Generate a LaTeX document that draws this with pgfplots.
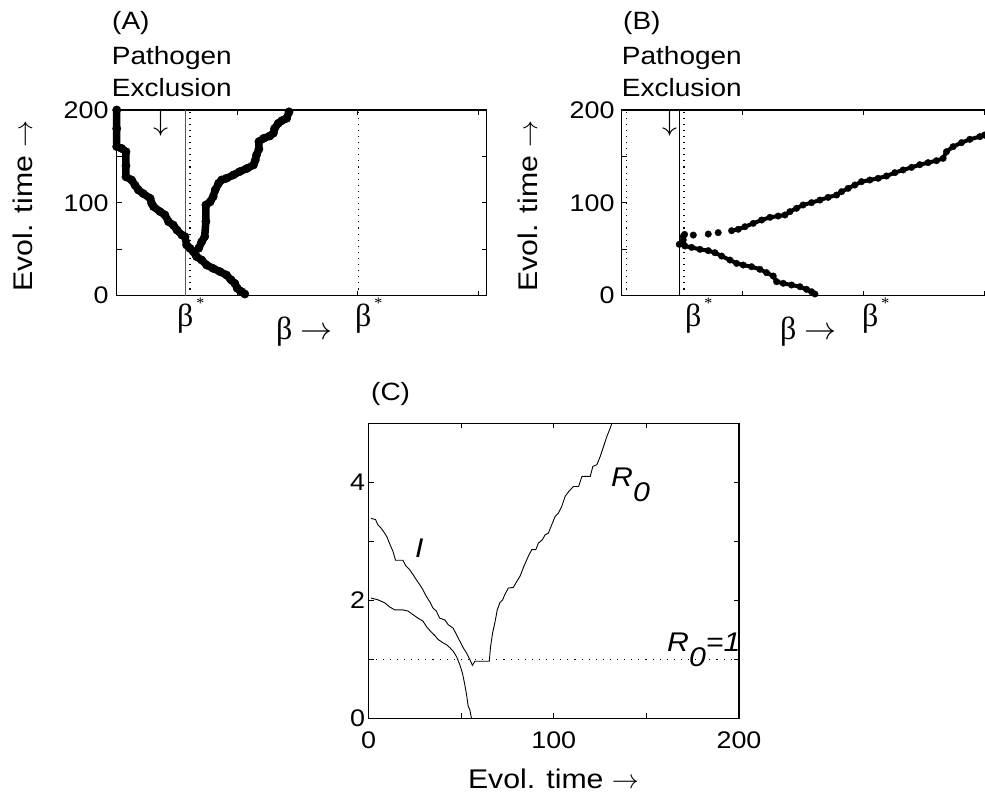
\RequirePackage{fix-cm}
\documentclass[border=0pt]{standalone}
\usepackage{fontspec}
\setmainfont{Liberation Sans}[FakeStretch=1.12]
\newfontfamily\gr{Liberation Serif}
\usepackage{pgfplots}
\pgfplotsset{compat=1.18}
\newcommand{\fs}{\fontsize{24bp}{28bp}\selectfont}
\newcommand{\fl}{\fontsize{27bp}{31bp}\selectfont}
\newcommand{\fp}{\fontsize{25bp}{29bp}\selectfont}
\newcommand{\fb}{\fontsize{32bp}{36bp}\selectfont\gr}
\newcommand{\bstar}{β\hspace{3bp}\raisebox{18bp}{\fontsize{16bp}{16bp}\selectfont *}}
\pgfplotsset{
  every axis/.append style={
    scale only axis, anchor=south west,
    axis line style={line width=1.3bp},
    tick style={line width=0.7bp, black},
    major tick length=5bp, minor tick length=5bp,
    tick align=inside,
    /pgf/number format/assume math mode=true,
    tick label style={font=\fs},
  }
}
\begin{document}
\begin{tikzpicture}
\useasboundingbox (0,0) rectangle (985bp,799bp);
% ---------------- Panel A ----------------
\begin{axis}[at={(116.7bp,503.3bp)}, width=370bp, height=185.7bp,
  xmin=0, xmax=3.07, ymin=0, ymax=200, clip=false,
  xtick={0,1,2,3}, xticklabels={},
  ytick={0,50,100,150,200}, yticklabels={0,{},100,{},200},
  yticklabel style={xshift=-4.7bp}]
\addplot[gray!70!black, line width=1.2bp] coordinates {(0.573,0) (0.573,200)};
\addplot[black, line width=1.1bp, dash pattern=on 1.1bp off 5bp] coordinates {(0.608,0) (0.608,200)};
\addplot[black, line width=1.1bp, dash pattern=on 1.1bp off 5bp] coordinates {(2.005,0) (2.005,200)};
\addplot[black, line width=7.5bp, line join=round, line cap=round, mark=*, mark size=4.2bp, mark options={line width=0.3bp}] coordinates {
(0,200) (0,180) (0,160.5) (0.04,158.7) (0.077,155) (0.077,140) (0.077,128) (0.124,124.6)
(0.152,119) (0.18,113.8) (0.22,110) (0.278,104.8) (0.29,99.5) (0.305,96) (0.36,90.5)
(0.40,87) (0.43,79.7) (0.47,76) (0.50,70.7) (0.54,65.4) (0.567,63.6) (0.58,54.6)
(0.608,51) (0.636,47.4) (0.663,42) (0.705,38.4) (0.746,33) (0.80,29.4) (0.857,25.9)
(0.91,22.3) (0.95,16.9) (0.98,13.3) (1.0,7.9) (1.037,4.3) (1.063,1.8)};
\addplot[black, line width=7.5bp, line join=round, line cap=round, mark=*, mark size=4.2bp, mark options={line width=0.3bp}] coordinates {
(0.68,51) (0.705,58) (0.73,63.6) (0.74,80) (0.74,97.7) (0.775,101) (0.80,106.6)
(0.817,113.8) (0.845,121) (0.87,124.6) (0.91,126.4) (0.968,130) (1.02,133.6)
(1.08,137) (1.135,140.8) (1.15,146) (1.16,151.5) (1.18,158) (1.18,166) (1.22,169.5)
(1.27,172) (1.30,175) (1.31,180) (1.34,185.6) (1.37,188.5) (1.41,191) (1.43,198)};
\end{axis}
% ---------------- Panel B ----------------
\begin{axis}[at={(621.7bp,503.3bp)}, width=370bp, height=185.7bp,
  xmin=0, xmax=3.06, ymin=0, ymax=200, clip=false,
  xtick={0,1,2,3}, xticklabels={},
  ytick={0,50,100,150,200}, yticklabels={0,{},100,{},200},
  yticklabel style={xshift=-3.7bp}]
\addplot[black, line width=1bp] coordinates {(0.476,0) (0.476,200)};
\addplot[black, line width=1.1bp, dash pattern=on 1.1bp off 5bp] coordinates {(0.036,0) (0.036,200)};
\addplot[black, line width=1.1bp, dash pattern=on 1.1bp off 5bp] coordinates {(0.515,0) (0.515,200)};
\addplot[black, line width=4bp, line join=round, mark=*, mark size=3.3bp, mark options={line width=0.3bp}] coordinates {
(0.476,55.3) (0.523,53.5) (0.578,52) (0.647,49.9) (0.716,48.5) (0.771,46.3) (0.826,42.7)
(0.895,38.4) (0.95,34.8) (1.005,33) (1.074,31.2) (1.143,28.4) (1.198,24.8) (1.253,21.2)
(1.281,15.1) (1.336,13.3) (1.405,11.5) (1.474,9.7) (1.529,6.8) (1.57,4.3) (1.598,1.8)};
\addplot[black, line width=4bp, line join=round, mark=*, mark size=3.3bp, mark options={line width=0.3bp}] coordinates {
(0.509,56) (0.509,60) (0.509,64) (0.52,66)};
\addplot[black, only marks, mark=*, mark size=3.3bp, mark options={line width=0.3bp}] coordinates {
(0.592,65.3) (0.716,66.4) (0.798,67.9)};
\addplot[black, line width=4bp, line join=round, mark=*, mark size=3.3bp, mark options={line width=0.3bp}] coordinates {
(0.909,70) (0.964,71.5) (1.019,74.3) (1.088,77.9) (1.157,81.5) (1.226,84.4) (1.294,85.8)
(1.35,86.9) (1.391,90.5) (1.446,94.1) (1.5,97.7) (1.57,100.2) (1.639,103) (1.707,105.9)
(1.777,108.4) (1.818,112) (1.873,115.6) (1.928,119.2) (1.983,122.8) (2.052,124.6)
(2.121,126.4) (2.19,128.9) (2.259,132.5) (2.327,135.4) (2.397,138.2) (2.465,141.1)
(2.534,143.3) (2.603,145.4) (2.658,147.9) (2.686,155.1) (2.741,160.5) (2.81,164.8)
(2.879,168.4) (2.962,171.3) (3.0,173) (3.06,176)};
\end{axis}
% ---------------- Panel C ----------------
\begin{axis}[at={(368.5bp,80.5bp)}, width=370.5bp, height=295.2bp,
  xmin=0, xmax=200, ymin=0, ymax=5,
  xtick={0,50,100,150,200}, xticklabels={0,{},100,{},200},
  ytick={0,1,2,3,4,5}, yticklabels={0,{},2,{},4,{}},
  xticklabel style={yshift=-10bp}]
\addplot[black, line width=1.1bp, dash pattern=on 1.1bp off 6bp] coordinates {(0,1) (200,1)};
\addplot[black, line width=0.9bp] coordinates {
(1.4,3.39) (3.8,3.37) (5.1,3.28) (6.9,3.22) (8.7,3.14) (9.9,3.08) (11.7,2.94) (13.2,2.83)
(14.6,2.68) (18.6,2.68) (20.0,2.59) (22.2,2.52) (24.0,2.44) (25.8,2.35) (27.6,2.27)
(29.4,2.18) (31.2,2.07) (33.4,1.96) (34.8,1.87) (36.6,1.82) (38.4,1.70) (41.2,1.67)
(43.0,1.59) (45.7,1.53) (47.5,1.42) (49.3,1.31) (51.1,1.20) (52.9,1.11) (54.7,1.0)
(56.1,0.90) (57.4,0.97) (65.2,0.97) (65.9,1.22) (67.0,1.45) (68.2,1.62) (69.5,1.84)
(70.9,1.96) (72.4,2.01) (73.6,2.10) (75.5,2.21) (78.2,2.22) (80.0,2.32) (81.8,2.41)
(83.9,2.58) (86.3,2.75) (88.1,2.86) (90.3,2.86) (91.7,2.97) (93.9,3.03) (95.3,3.11)
(97.1,3.14) (98.9,3.28) (100.7,3.42) (102.5,3.48) (104.3,3.59) (106.1,3.76) (108.0,3.84)
(110.6,3.93) (113.4,3.93) (115.2,4.10) (119.7,4.10) (121.1,4.27) (123.3,4.30)
(125.1,4.44) (126.9,4.61) (128.7,4.78) (130.5,4.92) (131.4,5.0)};
\addplot[black, line width=0.9bp] coordinates {
(1.4,2.04) (5.1,2.01) (8.7,1.96) (11.4,1.89) (14.1,1.84) (18.6,1.84) (21.3,1.82)
(24.0,1.76) (26.7,1.70) (29.4,1.65) (31.2,1.56) (33.4,1.48) (35.7,1.41) (37.5,1.34)
(40.3,1.28) (42.1,1.25) (43.9,1.20) (45.7,1.14) (47.5,1.05) (49.3,0.91) (50.7,0.77)
(52.0,0.57) (52.9,0.41) (53.8,0.21) (54.7,0.15) (55.6,0)};
\end{axis}
% ---------------- Annotations ----------------
% Panel A
\node[anchor=base west, inner sep=0pt, font=\fp] at (112bp,769bp) {(A)};
\node[anchor=base west, inner sep=0pt, font=\fp] at (111.7bp,734bp) {Pathogen};
\node[anchor=base west, inner sep=0pt, font=\fp] at (111.7bp,702.3bp) {Exclusion};
\node[inner sep=0pt, font=\fontsize{30bp}{34bp}\selectfont] at (160.5bp,675.5bp) {$\downarrow$};
\node[rotate=90, inner sep=0pt, font=\fl] at (22.5bp,593bp) {Evol. time $\rightarrow$};
\node[anchor=base west, inner sep=0pt, font=\fb] at (177bp,472bp) {\bstar};
\node[anchor=base west, inner sep=0pt, font=\fb] at (355bp,472bp) {\bstar};
\node[anchor=base west, inner sep=0pt, font=\fb] at (276bp,459bp) {β $\rightarrow$};
% Panel B
\node[anchor=base west, inner sep=0pt, font=\fp] at (623bp,769bp) {(B)};
\node[anchor=base west, inner sep=0pt, font=\fp] at (621.7bp,734bp) {Pathogen};
\node[anchor=base west, inner sep=0pt, font=\fp] at (621.7bp,702.3bp) {Exclusion};
\node[inner sep=0pt, font=\fontsize{30bp}{34bp}\selectfont] at (670bp,675.5bp) {$\downarrow$};
\node[rotate=90, inner sep=0pt, font=\fl] at (527.5bp,593bp) {Evol. time $\rightarrow$};
\node[anchor=base west, inner sep=0pt, font=\fb] at (685bp,472bp) {\bstar};
\node[anchor=base west, inner sep=0pt, font=\fb] at (862bp,472bp) {\bstar};
\node[anchor=base west, inner sep=0pt, font=\fb] at (780bp,459bp) {β $\rightarrow$};
% Panel C
\node[anchor=base west, inner sep=0pt, font=\fp] at (371bp,398bp) {(C)};
\node[anchor=base west, inner sep=0pt, font=\fl] at (415bp,241bp) {\itshape I};
\node[anchor=base west, inner sep=0pt, font=\fl] at (611bp,312bp) {\itshape R\raisebox{-15bp}{0}};
\node[anchor=base west, inner sep=0pt, font=\fl] at (667bp,147bp) {\itshape R\raisebox{-15bp}{0}=1};
\node[anchor=base, inner sep=0pt, font=\fl] at (553.5bp,11bp) {Evol. time $\rightarrow$};
\end{tikzpicture}
\end{document}
